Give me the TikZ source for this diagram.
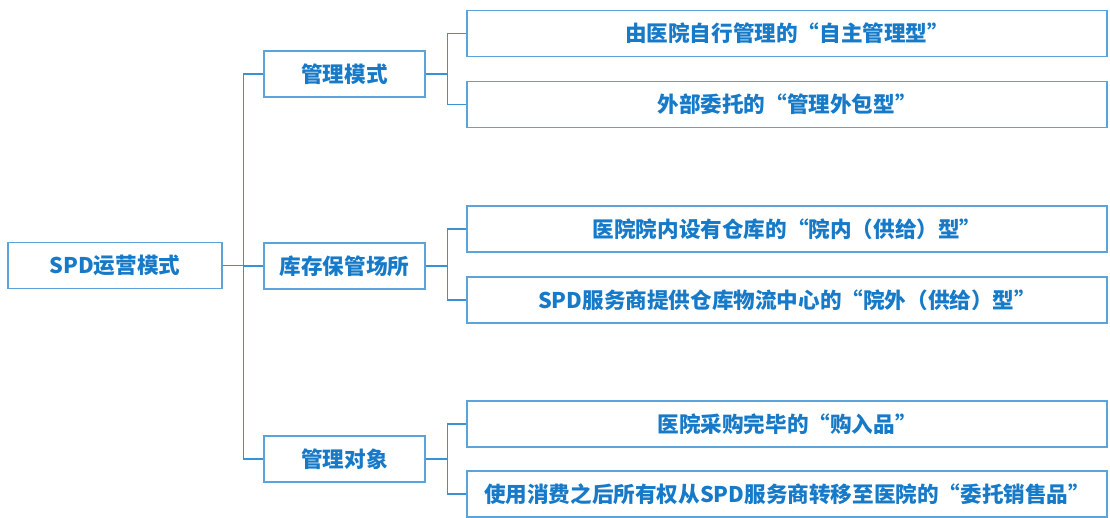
\documentclass[tikz,border=0pt]{standalone}
\usepackage{fontspec}
\newfontfamily\cjk{Noto Sans CJK SC}
\usetikzlibrary{positioning}
\definecolor{boxblue}{RGB}{91,163,219}
\definecolor{textblue}{RGB}{22,122,200}
\definecolor{lineblue}{RGB}{60,145,210}

\begin{document}
\begin{tikzpicture}[x=1pt, y=-1pt,
    box/.style={rectangle, draw=boxblue, line width=1.5pt, text=textblue, font=\cjk\bfseries\fontsize{21.6}{25}\selectfont, inner sep=0pt, minimum height=46pt},
    rootbox/.style={box, minimum width=214pt},
    midbox/.style={box, minimum width=161pt},
    leafbox/.style={box, minimum width=640pt},
    link/.style={draw=lineblue, line width=1.2pt}]
    \useasboundingbox (0,0) rectangle (1110,518);

    % Define nodes
    \node[rootbox] (root) at (115,265.5) {SPD运营模式};

    \node[midbox] (mode) at (344.5,74) {管理模式};
    \node[midbox] (store) at (344.5,266) {库存保管场所};
    \node[midbox] (object) at (344.5,459) {管理对象};

    \node[leafbox] (selfmgr) at (787,33.5) {由医院自行管理的“自主管理型”};
    \node[leafbox] (outsrc) at (787,104.5) {外部委托的“管理外包型”};
    \node[leafbox] (inhouse) at (787,229) {医院院内设有仓库的“院内（供给）型”};
    \node[leafbox] (outside) at (787,300) {SPD服务商提供仓库物流中心的“院外（供给）型”};
    \node[leafbox] (bought) at (787,424) {医院采购完毕的“购入品”};
    \node[leafbox] (consign) at (787,494) {使用消费之后所有权从SPD服务商转移至医院的“委托销售品”};

    % Connect nodes with lines
    \draw[link] (root.east) -- ++(21,0) |- (mode.west);
    \draw[link] (root.east) -- ++(21,0) |- (store.west);
    \draw[link] (root.east) -- ++(21,0) |- (object.west);

    \draw[link] (mode.east) -- ++(22,0) |- (selfmgr.west);
    \draw[link] (mode.east) -- ++(22,0) |- (outsrc.west);
    \draw[link] (store.east) -- ++(22,0) |- (inhouse.west);
    \draw[link] (store.east) -- ++(22,0) |- (outside.west);
    \draw[link] (object.east) -- ++(22,0) |- (bought.west);
    \draw[link] (object.east) -- ++(22,0) |- (consign.west);
\end{tikzpicture}
\end{document}
